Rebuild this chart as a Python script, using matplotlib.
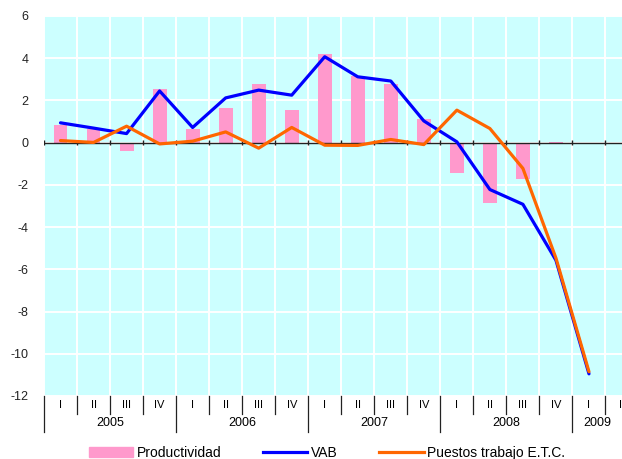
import matplotlib
matplotlib.use("Agg")
import matplotlib.pyplot as plt
from matplotlib.patches import Patch
from matplotlib.lines import Line2D

plt.rcParams['font.family'] = ['Liberation Sans', 'DejaVu Sans']
plt.rcParams['axes.unicode_minus'] = False

quarters = ["I", "II", "III", "IV"] * 4 + ["I", "II"]
years = ["2005", "2006", "2007", "2008", "2009"]
year_start = [0, 4, 8, 12, 16]

productividad = [0.83, 0.67, -0.39, 2.53, 0.64, 1.63, 2.77, 1.54, 4.19, 3.15,
                 2.8, 1.12, -1.43, -2.87, -1.73, 0.02, -0.05]
vab = [0.94, 0.69, 0.43, 2.45, 0.72, 2.12, 2.49, 2.25, 4.07, 3.12,
       2.92, 1.03, 0.04, -2.22, -2.92, -5.57, -10.95]
puestos = [0.1, 0.01, 0.78, -0.06, 0.07, 0.51, -0.26, 0.72, -0.12, -0.13,
           0.15, -0.09, 1.54, 0.67, -1.22, -5.47, -10.85]

W, H = 622, 459
fig = plt.figure(figsize=(W / 100, H / 100), dpi=100)
ax = fig.add_axes([44 / W, (H - 396) / H, (W - 44) / W, 380 / H])
ax.set_facecolor("#CCFFFF")

x = list(range(len(productividad)))
ax.bar(x, productividad, width=0.42, color="#FF99CC", zorder=2)
ax.plot(x, vab, color="#0000FF", lw=2.3, zorder=4, solid_capstyle="round")
ax.plot(x, puestos, color="#FF6600", lw=2.3, zorder=4, solid_capstyle="round")

ax.set_xlim(-0.5, 17.0)
ax.set_ylim(-12, 6)
ax.set_yticks(range(-12, 7, 2))
ax.tick_params(axis="y", length=0, pad=11, labelsize=9, labelcolor="#222222")
ax.set_xticks([])
for s in ax.spines.values():
    s.set_visible(False)

# white grid
for b in range(len(quarters) + 1):
    ax.axvline(b - 0.5, color="white", lw=1.4, zorder=1)
for yv in range(-12, 7, 2):
    ax.axhline(yv, color="white", lw=1.4, zorder=1)

# zero axis with tick marks
ax.axhline(0, color="#222222", lw=1.0, zorder=3)
ax.vlines([b - 0.5 for b in range(len(quarters) + 1)], -0.12, 0.12,
          color="#222222", lw=1.0, zorder=3)

# category axis below the plot (last "II" is cut at the edge as in the original)
tr = ax.get_xaxis_transform()
for i, q in enumerate(quarters):
    ax.text(i, -0.025, q, transform=tr, ha="center", va="center",
            fontsize=8, clip_on=False)
for b in range(len(quarters) + 1):
    bottom = -0.095 if (b in year_start) else -0.047
    ax.plot([b - 0.5, b - 0.5], [0, bottom], transform=tr, color="#222222",
            lw=0.9, clip_on=False)
for y, s in zip(years, year_start):
    xc = s + 1.5 if y != "2009" else 16.25
    ax.text(xc, -0.071, y, transform=tr, ha="center", va="center",
            fontsize=9, clip_on=False)

handles = [Patch(color="#FF99CC"),
           Line2D([], [], color="#0000FF", lw=2.3),
           Line2D([], [], color="#FF6600", lw=2.3)]
fig.legend(handles, ["Productividad", "VAB", "Puestos trabajo E.T.C."],
           loc="center", bbox_to_anchor=(327 / W, 1 - 453 / H), ncol=3,
           frameon=False, fontsize=10, handlelength=3.2, handletextpad=0.25,
           columnspacing=3.0, handleheight=0.8)

fig.savefig("out.png", dpi=100)
